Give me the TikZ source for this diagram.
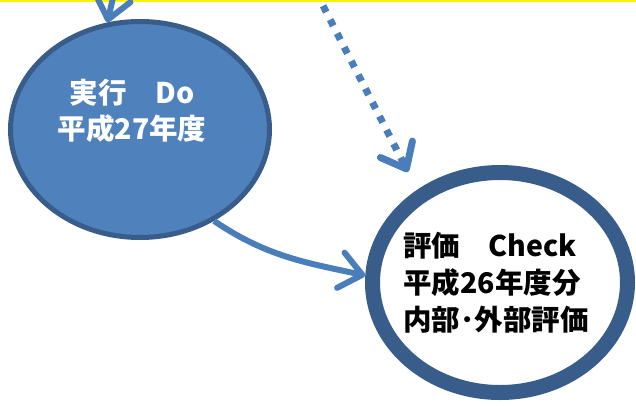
\documentclass[tikz,border=0pt]{standalone}
\usepackage{fontspec}
\usetikzlibrary{arrows.meta,shapes.geometric}
\newfontfamily\jpfont{Noto Sans CJK JP}
\definecolor{planfill}{HTML}{4F81BD}
\definecolor{planline}{HTML}{385D8A}
\definecolor{arrowblue}{HTML}{4A7EBB}

\begin{document}
\begin{tikzpicture}[x=1pt, y=1pt,
	bigarrow/.style={arrowblue, line width=6pt, -{Straight Barb[length=22pt, width=36pt, round]}},
	cycletext/.style={inner sep=0pt}]
	\useasboundingbox (0,0) rectangle (636,405);
	\clip (0,0) rectangle (636,405);
	\fill [yellow] (0,403) rectangle (636,405);

	\node [ellipse, draw=planline, fill=planfill, line width=5pt, minimum width=259pt, minimum height=216pt] (do) at (140,275.5) {};
	\node [cycletext, white, align=center, font=\jpfont\bfseries\fontsize{28.5}{35.5}\selectfont] (dotext) at (132,294.25) {実行　Do\\平成27年度};

	\node [ellipse, draw=planline, fill=white, line width=15pt, minimum width=255pt, minimum height=220pt] (check) at (500,122.5) {};
	\node [cycletext, align=left, font=\jpfont\bfseries\fontsize{28.5}{37}\selectfont] (checktext) at (496,122.5) {評価　Check\\平成26年度分\\内部･外部評価};

	\coordinate (topstart) at (116,420);
	\draw [bigarrow] (topstart) -- (do.107);

	\coordinate (dotstart) at (316,413);
	\coordinate (dotend) at (408,233);
	\draw [bigarrow, line width=7pt, dash pattern=on 7pt off 8.5pt] (dotstart) -- (dotend);

	\draw [bigarrow] (do.-51) to [out=-34, in=168] (check.177);
\end{tikzpicture}
\end{document}
